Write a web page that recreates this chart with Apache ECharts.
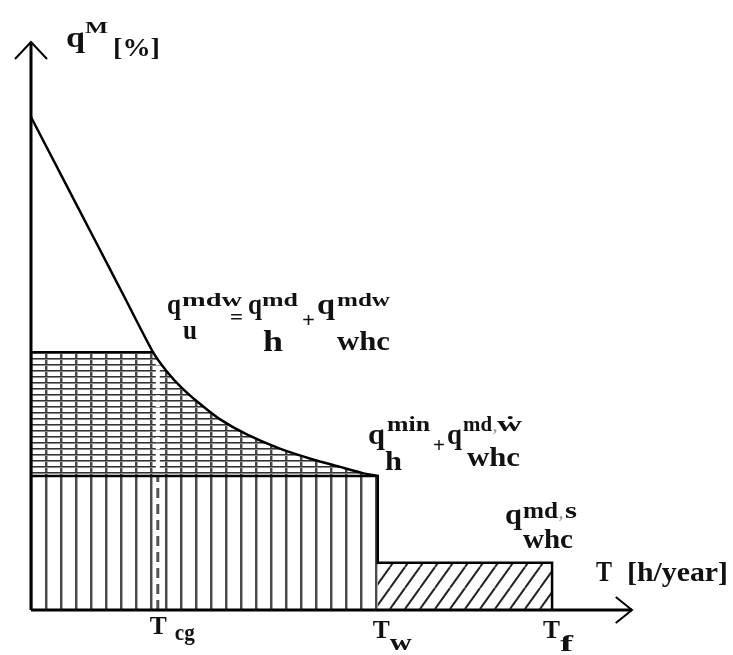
<!DOCTYPE html>
<html><head><meta charset="utf-8">
<script src="https://cdn.jsdelivr.net/npm/echarts@6/dist/echarts.min.js"></script>
<style>html,body{margin:0;padding:0;background:#fff}#c{width:733px;height:655px}</style>
</head><body><div id="c"></div>
<script>
// ---- data (schematic load-duration diagram, T in relative units 0..100, q in %) ----
const curveT = [0, 5, 10.65, 15.5, 20.3, 22.6, 25.0, 28.1, 31.4, 35.9, 41.4, 46.9, 51.4, 55.2, 57.7];
const curveQ = [86.8, 76.6, 65.1, 55.2, 45.4, 42.0, 39.2, 36.3, 33.6, 30.9, 28.4, 26.5, 25.2, 24.1, 23.6];
const tickValues = [21.1, 57.7, 86.7];          // T_cg, T_w, T_f
const tickMain = ['T', 'T', 'T'];
const tickSub = ['cg', 'w', 'f'];
const levelMdw = 45.4;   // q_u^mdw level (top of cross-hatched band)
const levelMin = 23.6;   // q_h^min + q_whc^mdw
const levelS = 8.3;      // q_whc^md,s
const T_cg = tickValues[0], T_w = tickValues[1], T_f = tickValues[2];
const axisTitleY = ['q', 'M', '[%]'];
const axisTitleX = ['T', '[h/year]'];

// ---- patterns ----
function pat(w, h, draw) {
  const c = document.createElement('canvas'); c.width = w; c.height = h;
  const g = c.getContext('2d'); draw(g, w, h);
  return { image: c, repeat: 'repeat' };
}
const vertPat = pat(15, 10, (g, w, h) => { g.fillStyle = '#4a4a4a'; g.fillRect(0, 0, 2, h); g.fillStyle = '#aaa'; g.fillRect(2, 0, 1, h); });
const horPat = pat(10, 6, (g, w, h) => { g.fillStyle = '#333'; g.fillRect(0, 4, w, 1); g.fillStyle = '#888'; g.fillRect(0, 5, w, 1); });
const diagPat = pat(15, 21, (g, w, h) => {
  g.strokeStyle = '#222'; g.lineWidth = 2;
  for (const o of [-w, 0, w]) { g.beginPath(); g.moveTo(o, h); g.lineTo(o + w, 0); g.stroke(); }
});

const chart = echarts.init(document.getElementById('c'), null, { renderer: 'canvas', width: 733, height: 655 });

function renderShapes(params, api) {
  const P = (x, y) => api.coord([x, y]);
  const ch = [];
  // region A (below min level)
  const A = [P(0, 0), P(T_w, 0), P(T_w, levelMin), P(0, levelMin)];
  ch.push({ type: 'polygon', shape: { points: A }, style: { fill: vertPat } });
  // region B (between min level, mdw level and curve)
  let i0 = curveQ.findIndex(v => v <= levelMdw);
  const B = [P(0, levelMin), P(0, levelMdw)];
  for (let i = i0; i < curveT.length; i++) B.push(P(curveT[i], curveQ[i]));
  ch.push({ type: 'polygon', shape: { points: B }, style: { fill: vertPat } });
  ch.push({ type: 'polygon', shape: { points: B }, style: { fill: horPat } });
  // region C (summer rectangle)
  const C = [P(T_w, 0), P(T_f, 0), P(T_f, levelS), P(T_w, levelS)];
  ch.push({ type: 'polygon', shape: { points: C }, style: { fill: diagPat } });
  // dashed T_cg
  ch.push({ type: 'line', shape: { x1: P(T_cg, 0)[0], y1: P(T_cg, 0)[1], x2: P(T_cg, levelMin)[0], y2: P(T_cg, levelMin)[1] },
    style: { stroke: '#555', lineWidth: 3, lineDash: [10, 6] } });
  ch.push({ type: 'line', shape: { x1: P(T_cg, levelMin + 1)[0], y1: P(T_cg, levelMin + 1)[1], x2: P(T_cg, levelMdw - 1)[0], y2: P(T_cg, levelMdw - 1)[1] },
    style: { stroke: '#fff', lineWidth: 4, lineDash: [5, 2] } });
  // borders
  const bs = { stroke: '#000', lineWidth: 2.5, fill: null };
  ch.push({ type: 'polyline', shape: { points: [P(0, levelMdw), P(curveT[i0], curveQ[i0])] }, style: bs });
  ch.push({ type: 'polyline', shape: { points: [P(0, levelMin), P(T_w, levelMin), P(T_w, levelS), P(T_f, levelS), P(T_f, 0)] }, style: bs });
  // arrows
  const as = { stroke: '#000', lineWidth: 2, fill: null };
  ch.push({ type: 'polyline', shape: { points: [P(97.3, 2.3), P(100, 0), P(97.3, -2.3)] }, style: as });
  ch.push({ type: 'polyline', shape: { points: [P(-2.66, 97.0), P(0, 100), P(2.66, 97.0)] }, style: as });
  ch.push({ type: 'line', shape: { x1: P(0, 0)[0], y1: P(0, 0)[1], x2: P(100, 0)[0], y2: P(100, 0)[1] }, style: { stroke: '#000', lineWidth: 3 } });
  ch.push({ type: 'line', shape: { x1: P(0, 0)[0], y1: P(0, 0)[1], x2: P(0, 100)[0], y2: P(0, 100)[1] }, style: { stroke: '#000', lineWidth: 3 } });
  return { type: 'group', children: ch };
}

// ---- text labels ----
const FONT = "'Liberation Serif','Times New Roman',serif";
const mctx = document.createElement('canvas').getContext('2d');
function piece(t, x0, x1, base, size, color) {
  mctx.font = 'bold ' + size + 'px ' + FONT;
  const w = mctx.measureText(t).width || 1;
  return { type: 'text', x: x0, y: base - 0.34 * size, scaleX: (x1 - x0) / w, z: 100,
    style: { text: t, x: 0, y: 0, font: 'bold ' + size + 'px ' + FONT, fill: color || '#111',
      align: 'left', verticalAlign: 'middle', textAlign: 'left', textVerticalAlign: 'middle' } };
}
const labels = [
  piece(axisTitleY[0], 66, 85, 49, 30), piece(axisTitleY[1], 85, 108, 34, 16), piece(axisTitleY[2], 113, 160, 58, 26),
  piece('q', 167, 181, 316, 30), piece('u', 183, 197, 341, 28), piece('mdw', 182, 242, 307, 18), piece('=', 230, 243, 326, 20),
  piece('q', 248, 262, 316, 30), piece('md', 262, 298, 307, 18), piece('h', 263, 283, 353, 30), piece('+', 302, 315, 329, 22),
  piece('q', 317, 335, 316, 30), piece('mdw', 337, 390, 307, 18), piece('whc', 337, 390, 352, 28),
  piece('q', 368, 385, 446, 30), piece('min', 387, 430, 433, 21), piece('h', 385, 402, 472, 28), piece('+', 433, 445, 454, 22),
  piece('q', 447, 462, 446, 30), piece('md', 463, 492, 433, 21), piece(',', 493, 497, 433, 16, '#999'), piece('\u1E87', 497, 522, 433, 21), piece('whc', 467, 520, 468, 28),
  piece('q', 505, 522, 526, 30), piece('md', 523, 558, 520, 24), piece(',', 559, 563, 520, 16, '#999'), piece('s', 565, 577, 520, 24), piece('whc', 523, 573, 550, 28),
  piece(axisTitleX[0], 596, 612, 583, 30), piece(axisTitleX[1], 627, 728, 583, 28)
];

chart.setOption({
  animation: false,
  grid: { left: 31, top: 42, right: 101, bottom: 45 },
  xAxis: { type: 'value', min: 0, max: 100, axisLine: { show: false }, axisTick: { show: false }, axisLabel: { show: false }, splitLine: { show: false } },
  yAxis: { type: 'value', min: 0, max: 100, axisLine: { show: false }, axisTick: { show: false }, axisLabel: { show: false }, splitLine: { show: false } },
  series: [
    { type: 'custom', coordinateSystem: 'cartesian2d', clip: false, z: 1, silent: true, data: [[0, 0]], renderItem: renderShapes },
    { type: 'line', z: 5, symbol: 'none', silent: true, smooth: 0.2, data: curveT.map((t, i) => [t, curveQ[i]]), lineStyle: { color: '#000', width: 2.5 } }
  ]
});

// tick labels placed at the tick values
const tickOffsets = [[-8, 9, 17, 37, 636, 642], [-5, 12, 12, 34, 640, 652], [-9, 8, 8, 21, 640, 653]];
tickValues.forEach((v, i) => {
  const px = chart.convertToPixel({ gridIndex: 0 }, [v, 0])[0];
  const o = tickOffsets[i];
  labels.push(piece(tickMain[i], px + o[0], px + o[1], o[4], 26));
  labels.push(piece(tickSub[i], px + o[2], px + o[3], o[5], 24));
});
chart.setOption({ graphic: { elements: labels } });
</script></body></html>
